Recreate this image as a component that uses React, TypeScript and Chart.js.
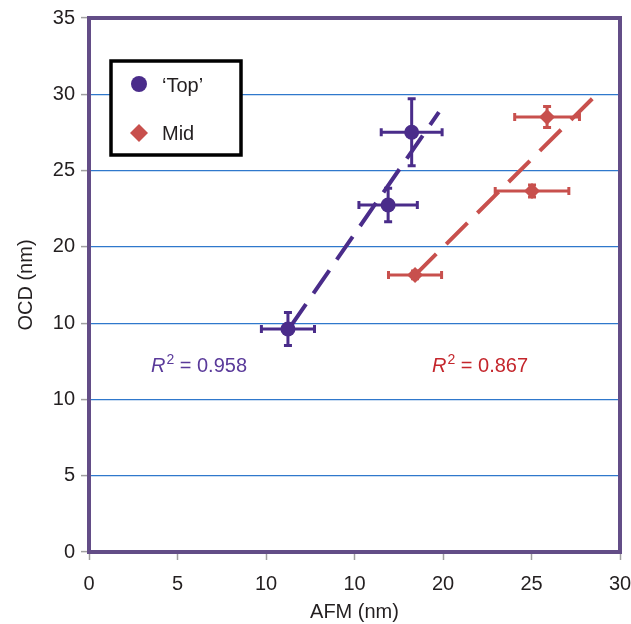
import React, { useEffect, useRef } from "react";
import { Chart, registerables } from "chart.js";

Chart.register(...registerables);

// ---- data ----
const xTickLabels = ["0", "5", "10", "10", "20", "25", "30"];
const yTickLabels = ["0", "5", "10", "10", "20", "25", "30", "35"];

const topLabel = "\u2018Top\u2019";
const topAfm = [11.24, 16.9, 18.23];
const topOcd = [14.62, 22.74, 27.51];
const topAfmErr = [1.5, 1.65, 1.72];
const topOcdErr = [1.08, 1.1, 2.2];

const midLabel = "Mid";
const midAfm = [18.42, 25.03, 25.88];
const midOcd = [18.16, 23.66, 28.51];
const midAfmErr = [1.5, 2.08, 1.83];
const midOcdErr = [0.25, 0.4, 0.69];

const topFitX = [11.36, 19.77];
const topFitY = [14.74, 28.83];
const midFitX = [18.42, 28.47];
const midFitY = [18.15, 29.75];

const topR2 = "0.958";
const midR2 = "0.867";

const PURPLE = "#4a2c8a";
const RED = "#c8504d";
const PURPLE_TEXT = "#5a3a9a";
const RED_TEXT = "#c4262c";
const FRAME = "#634d87";
const FONT = "'Liberation Sans', Arial, sans-serif";

const errorBarPlugin = {
  id: "errorBars",
  beforeDatasetsDraw(chart: any) {
    const { ctx } = chart;
    const xs = chart.scales.x;
    const ys = chart.scales.y;
    chart.data.datasets.forEach((ds: any) => {
      if (!ds.errX) return;
      ctx.save();
      ctx.strokeStyle = ds.borderColor;
      ctx.lineWidth = 3;
      ds.data.forEach((p: any, j: number) => {
        const cx = xs.getPixelForValue(p.x);
        const cy = ys.getPixelForValue(p.y);
        const xl = xs.getPixelForValue(p.x - ds.errX[j]);
        const xr = xs.getPixelForValue(p.x + ds.errX[j]);
        const yt = ys.getPixelForValue(p.y + ds.errY[j]);
        const yb = ys.getPixelForValue(p.y - ds.errY[j]);
        const c = 4;
        ctx.beginPath();
        ctx.moveTo(xl, cy); ctx.lineTo(xr, cy);
        ctx.moveTo(xl, cy - c); ctx.lineTo(xl, cy + c);
        ctx.moveTo(xr, cy - c); ctx.lineTo(xr, cy + c);
        ctx.moveTo(cx, yt); ctx.lineTo(cx, yb);
        ctx.moveTo(cx - c, yt); ctx.lineTo(cx + c, yt);
        ctx.moveTo(cx - c, yb); ctx.lineTo(cx + c, yb);
        ctx.stroke();
      });
      ctx.restore();
    });
  },
};

const decorPlugin = {
  id: "decor",
  afterDraw(chart: any) {
    const { ctx, chartArea } = chart;
    const xs = chart.scales.x;
    const ys = chart.scales.y;
    ctx.save();
    // frame
    ctx.strokeStyle = FRAME;
    ctx.lineWidth = 4;
    ctx.strokeRect(chartArea.left, chartArea.top, chartArea.right - chartArea.left, chartArea.bottom - chartArea.top);

    // legend box
    ctx.fillStyle = "#ffffff";
    ctx.fillRect(111, 61, 130, 94);
    ctx.strokeStyle = "#000000";
    ctx.lineWidth = 3.5;
    ctx.strokeRect(111, 61, 130, 94);
    ctx.fillStyle = PURPLE;
    ctx.beginPath();
    ctx.arc(139, 84, 8, 0, Math.PI * 2);
    ctx.fill();
    ctx.fillStyle = RED;
    ctx.beginPath();
    ctx.moveTo(130, 133); ctx.lineTo(139, 124); ctx.lineTo(148, 133); ctx.lineTo(139, 142);
    ctx.closePath();
    ctx.fill();
    ctx.fillStyle = "#231f20";
    ctx.font = `20px ${FONT}`;
    ctx.textBaseline = "middle";
    ctx.textAlign = "left";
    ctx.fillText(topLabel, 162, 86);
    ctx.fillText(midLabel, 162, 134);

    // R^2 annotations
    const drawR2 = (xv: number, yv: number, val: string, color: string) => {
      let px = xs.getPixelForValue(xv);
      const py = ys.getPixelForValue(yv);
      ctx.fillStyle = color;
      ctx.textBaseline = "alphabetic";
      ctx.font = `italic 20px ${FONT}`;
      ctx.fillText("R", px, py + 7);
      px += ctx.measureText("R").width + 1;
      ctx.font = `14px ${FONT}`;
      ctx.fillText("2", px, py - 1);
      px += ctx.measureText("2").width;
      ctx.font = `20px ${FONT}`;
      ctx.fillText(" = " + val, px, py + 7);
    };
    drawR2(3.5, 12.26, topR2, PURPLE_TEXT);
    drawR2(19.38, 12.26, midR2, RED_TEXT);
    ctx.restore();
  },
};

export default function App() {
  const ref = useRef<HTMLCanvasElement>(null);
  useEffect(() => {
    if (!ref.current) return;
    Chart.defaults.font.family = FONT;
    const chart = new Chart(ref.current, {
      type: "scatter",
      data: {
        datasets: [
          {
            label: topLabel,
            data: topAfm.map((x, i) => ({ x, y: topOcd[i] })),
            errX: topAfmErr,
            errY: topOcdErr,
            backgroundColor: PURPLE,
            borderColor: PURPLE,
            pointStyle: "circle",
            pointRadius: 7.5,
            pointBorderWidth: 0,
          } as any,
          {
            label: midLabel,
            data: midAfm.map((x, i) => ({ x, y: midOcd[i] })),
            errX: midAfmErr,
            errY: midOcdErr,
            backgroundColor: RED,
            borderColor: RED,
            pointStyle: "rectRot",
            pointRadius: 8,
            pointBorderWidth: 0,
          } as any,
          {
            type: "line",
            label: "top fit",
            data: topFitX.map((x, i) => ({ x, y: topFitY[i] })),
            borderColor: PURPLE,
            borderWidth: 4,
            borderDash: [28, 13],
            pointRadius: 0,
            showLine: true,
            fill: false,
          } as any,
          {
            type: "line",
            label: "mid fit",
            data: midFitX.map((x, i) => ({ x, y: midFitY[i] })),
            borderColor: RED,
            borderWidth: 4,
            borderDash: [30, 14],
            pointRadius: 0,
            showLine: true,
            fill: false,
          } as any,
        ],
      },
      options: {
        animation: false,
        responsive: false,
        maintainAspectRatio: false,
        layout: { padding: { top: 18, right: 11, left: 0, bottom: 0 } },
        plugins: { legend: { display: false }, tooltip: { enabled: false } },
        scales: {
          x: {
            type: "linear",
            min: 0,
            max: 30,
            afterFit: (s: any) => { s.height = 72; s.paddingLeft = 0; s.paddingRight = 0; },
            ticks: {
              stepSize: 5,
              color: "#231f20",
              font: { size: 20 },
              padding: 12,
              callback: (v: any) => xTickLabels[Math.round(v / 5)],
            },
            grid: { drawOnChartArea: false, tickLength: 8, tickColor: "#a0a0a0", tickWidth: 1.5 },
            border: { display: false },
            title: { display: true, text: "AFM (nm)", color: "#231f20", font: { size: 20 }, padding: { top: 0, bottom: 0 } },
          },
          y: {
            type: "linear",
            min: 0,
            max: 35,
            afterFit: (s: any) => { s.width = 89; s.paddingTop = 0; s.paddingBottom = 0; },
            ticks: {
              stepSize: 5,
              color: "#231f20",
              font: { size: 20 },
              padding: 6,
              callback: (v: any) => yTickLabels[Math.round(v / 5)],
            },
            grid: {
              color: (c: any) => (c.tick && (c.tick.value === 0 || c.tick.value === 35) ? "rgba(0,0,0,0)" : "#2f78cc"),
              lineWidth: 1.2,
              tickLength: 8,
              tickColor: "#a0a0a0",
              tickWidth: 1.5,
            },
            border: { display: false },
            title: { display: true, text: "OCD (nm)", color: "#231f20", font: { size: 20 }, padding: { top: 14, bottom: 0 } },
          },
        },
      } as any,
      plugins: [errorBarPlugin, decorPlugin],
    });
    return () => chart.destroy();
  }, []);
  return (
    <div style={{ position: "fixed", left: 0, top: 0, width: 631, height: 624, background: "#fff" }}>
      <canvas ref={ref} width={631} height={624} style={{ width: 631, height: 624, display: "block" }} />
    </div>
  );
}
